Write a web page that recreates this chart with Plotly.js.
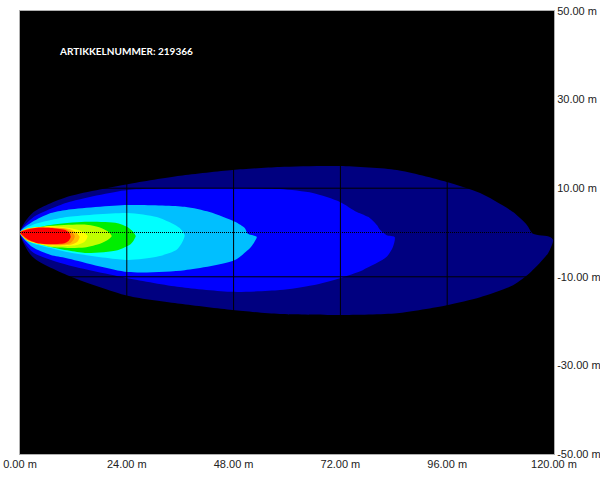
<!DOCTYPE html>
<html>
<head>
<meta charset="utf-8">
<script src="https://cdn.plot.ly/plotly-3.0.1.min.js"></script>
<style>
html,body{margin:0;padding:0;background:#fff;}
#chart{width:600px;height:481px;}
</style>
</head>
<body>
<div id="chart"></div>
<script>
// Tick values and labels
const xTickVals = [0, 24, 48, 72, 96, 120];
const xTickText = ["0.00 m", "24.00 m", "48.00 m", "72.00 m", "96.00 m", "120.00 m"];
const yTickVals = [-50, -30, -10, 10, 30, 50];
const yTickText = ["-50.00 m", "-30.00 m", "-10.00 m", "10.00 m", "30.00 m", "50.00 m"];

// Iso-illuminance contour boundaries (metres), outermost first
const levelColors = ["#000080", "#0000FF", "#00BFFF", "#00FFFF", "#00EE00", "#C0FF00", "#FFFF00", "#FFC000", "#FF8C00", "#FF0000"];

const navyX = [0, 2.8, 10.5, 24.2, 36, 47.8, 58.4, 71.9, 84.7, 95.9, 103.4, 110.8, 113.9, 115.3, 119.1, 119.8, 118.7, 114.8, 110.8, 103.4, 95.9, 84.7, 71.9, 58.4, 47.8, 36, 24.2, 10.5, 2.8, 0];
const navyY = [0, 4.4, 8.0, 10.9, 12.8, 14.1, 14.8, 15.0, 14.1, 11.4, 8.9, 4.6, 1.7, -0.3, -1.0, -1.7, -4.6, -8.9, -11.9, -14.6, -16.4, -18.2, -18.6, -18.4, -17.5, -16.1, -14.3, -9.6, -5.5, 0];

const blueX = [0, 2.8, 10.5, 24.2, 35.9, 47.8, 58.4, 65.8, 71.9, 75.7, 78.6, 80.2, 80.9, 82.4, 84.2, 83.8, 82.4, 77.0, 71.9, 65.8, 58.4, 47.8, 35.9, 24.2, 10.5, 2.8, 0];
const blueY = [0, 3.3, 6.7, 9.6, 10.0, 10.0, 9.8, 8.9, 6.9, 4.6, 3.3, 1.7, 0.6, -0.6, -1.0, -3.3, -5.5, -8.5, -10.3, -11.9, -13.0, -13.4, -12.3, -10.3, -7.3, -4.4, 0];

const lightBlueX = [0, 2.8, 6.9, 10.5, 24.2, 37.0, 42.6, 48.3, 50.5, 51.2, 53.2, 52.7, 51.9, 48.3, 37.0, 24.2, 10.5, 6.9, 2.8, 0];
const lightBlueY = [0, 2.4, 4.4, 5.1, 6.2, 5.8, 4.6, 2.4, 1.0, -0.3, -1.0, -2.1, -3.3, -6.2, -8.5, -8.9, -5.8, -5.1, -3.3, 0];

const cyanX = [0, 2.8, 6.9, 10.5, 24.2, 30.7, 34.1, 35.9, 37.0, 36.6, 35.2, 30.7, 24.2, 10.5, 6.9, 2.8, 0];
const cyanY = [0, 1.7, 2.8, 3.5, 4.4, 3.5, 2.1, 1.0, -0.6, -1.9, -3.9, -5.5, -6.2, -4.4, -3.5, -2.4, 0];

const greenX = [0, 3.3, 6.9, 14.6, 21.9, 24.2, 25.3, 26.0, 25.6, 24.9, 21.9, 14.6, 6.9, 3.3, 0];
const greenY = [0, 1.0, 1.7, 2.4, 2.1, 1.2, 0.3, -0.8, -1.7, -2.6, -4.0, -4.6, -3.3, -2.1, 0];

const limeX = [0, 3.3, 6.9, 14.5, 18.1, 19.7, 20.6, 19.7, 18.1, 14.5, 6.9, 3.3, 0];
const limeY = [0, 0.8, 1.5, 1.8, 1.1, 0.3, -0.8, -1.7, -2.5, -3.4, -3.3, -2.1, 0];

const yellowX = [0, 1.7, 6.9, 11.1, 13.8, 15.2, 14.5, 12.5, 6.9, 1.7, 0];
const yellowY = [0, 0.9, 1.4, 1.0, 0.3, -0.8, -2.1, -2.9, -3.0, -1.9, 0];

const amberX = [0, 1.7, 6.9, 11.1, 12.7, 13.4, 12.9, 11.6, 6.9, 1.7, 0];
const amberY = [0, 0.9, 1.2, 0.8, -0.1, -1.0, -2.1, -2.7, -2.9, -1.8, 0];

const orangeX = [0, 1.7, 6.9, 10.2, 11.6, 12.3, 12.0, 11.1, 6.9, 1.7, 0];
const orangeY = [0, 0.8, 1.1, 0.8, 0.1, -0.8, -1.7, -2.5, -2.8, -1.7, 0];

const redX = [0, 1.7, 3.9, 6.9, 10.0, 11.1, 11.4, 10.9, 10.0, 6.9, 3.9, 1.7, 0];
const redY = [0, 0.7, 1.1, 1.0, 0.6, -0.1, -1.0, -1.9, -2.4, -2.6, -2.4, -1.5, 0];

const contourX = [navyX, blueX, lightBlueX, cyanX, greenX, limeX, yellowX, amberX, orangeX, redX];
const contourY = [navyY, blueY, lightBlueY, cyanY, greenY, limeY, yellowY, amberY, orangeY, redY];

const labelText = "ARTIKKELNUMMER: 219366";

const traces = contourX.map((xs, i) => ({
  type: "scatter",
  mode: "lines",
  x: xs,
  y: contourY[i],
  fill: "toself",
  fillcolor: levelColors[i],
  line: {width: 0, color: levelColors[i], shape: "spline", smoothing: 0.7},
  hoverinfo: "skip",
  showlegend: false
}));

const shapes = [];
xTickVals.filter(v => v > 0 && v < 120).forEach(v => shapes.push({
  type: "line", xref: "x", yref: "paper", x0: v, x1: v, y0: 0, y1: 1,
  line: {color: "#000000", width: 1}, layer: "above"
}));
yTickVals.filter(v => v > -50 && v < 50).forEach(v => shapes.push({
  type: "line", xref: "paper", yref: "y", x0: 0, x1: 1, y0: v, y1: v,
  line: {color: "#000000", width: 1}, layer: "above"
}));
shapes.push({
  type: "line", xref: "paper", yref: "y", x0: 0, x1: 1, y0: 0, y1: 0,
  line: {color: "#000000", width: 1, dash: "1px,1px"}, layer: "above"
});

const layout = {
  width: 600, height: 481,
  margin: {l: 20, r: 46, t: 11, b: 27, pad: 0},
  paper_bgcolor: "#ffffff",
  plot_bgcolor: "#000000",
  font: {family: "Liberation Sans, Arial, sans-serif", size: 11, color: "#222222"},
  xaxis: {
    range: [0, 120], tickvals: xTickVals, ticktext: xTickText,
    showgrid: false, zeroline: false, ticks: "", ticklen: 0,
    showline: true, linecolor: "#b0b0b0", linewidth: 1, mirror: true,
    fixedrange: true
  },
  yaxis: {
    range: [-50, 50], tickvals: yTickVals, ticktext: yTickText, side: "right",
    showgrid: false, zeroline: false, ticks: "", ticklen: 0,
    showline: true, linecolor: "#b0b0b0", linewidth: 1, mirror: true,
    fixedrange: true
  },
  shapes: shapes,
  annotations: [{
    text: labelText, xref: "paper", yref: "paper",
    x: 0.0684, y: 0.9086, xanchor: "left", yanchor: "middle", showarrow: false,
    font: {family: "Lato, sans-serif", size: 10, color: "#ffffff", weight: "bold"}
  }]
};

Plotly.newPlot("chart", traces, layout, {displayModeBar: false, staticPlot: true});
</script>
</body>
</html>
